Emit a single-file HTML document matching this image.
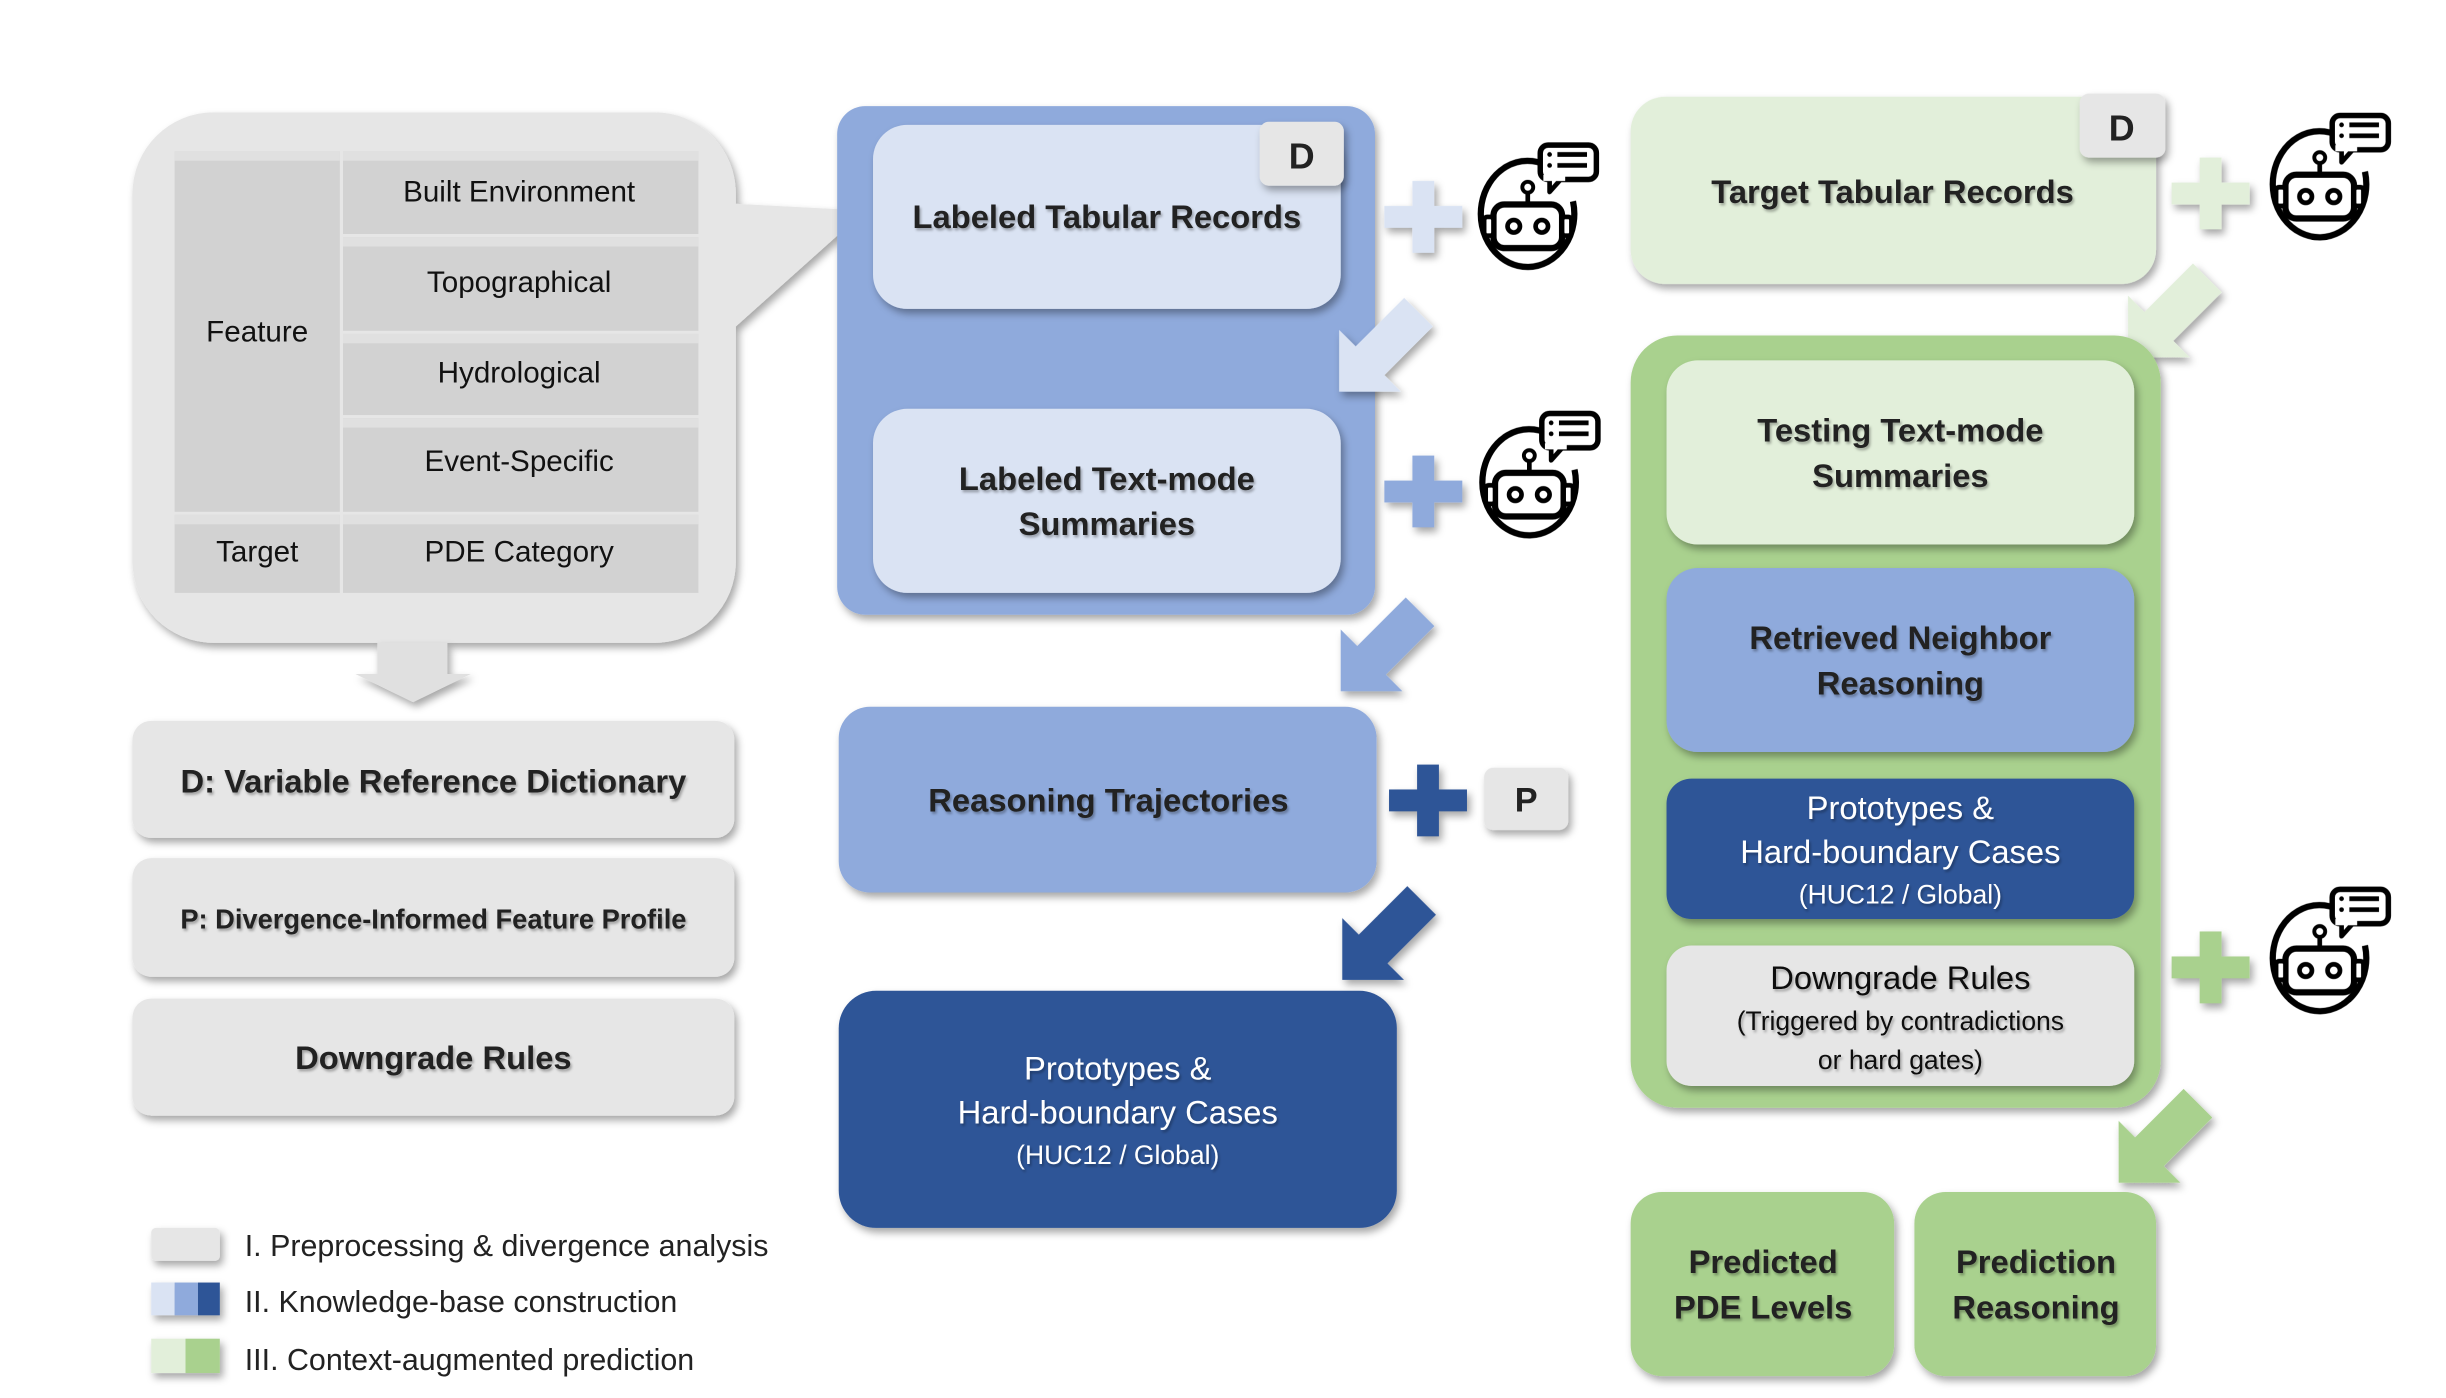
<!DOCTYPE html>
<html><head><meta charset="utf-8"><style>
html,body{margin:0;padding:0;background:#fff;}
svg{display:block;}
text{font-family:"Liberation Sans",sans-serif;}
</style></head><body>
<svg width="2446" height="1398" viewBox="0 0 1569 896" preserveAspectRatio="none" xmlns="http://www.w3.org/2000/svg">
<defs>
<filter id="sh" x="-10%" y="-10%" width="125%" height="130%"><feDropShadow dx="2" dy="3" stdDeviation="2.5" flood-color="#000" flood-opacity="0.35"/></filter>
<filter id="ts" x="-5%" y="-20%" width="110%" height="150%"><feDropShadow dx="1" dy="1.5" stdDeviation="0.8" flood-color="#000" flood-opacity="0.3"/></filter>
<g id="bot">
<path d="M 12,-31 A 30 34 0 1 0 29,-8" fill="none" stroke="#000" stroke-width="4"/>
<rect x="-22" y="-6" width="44" height="28" rx="7" fill="#fff" stroke="#000" stroke-width="4"/>
<rect x="-28" y="2" width="6" height="12" rx="2" fill="#fff" stroke="#000" stroke-width="3"/>
<rect x="22" y="2" width="6" height="12" rx="2" fill="#fff" stroke="#000" stroke-width="3"/>
<circle cx="-9" cy="8" r="4" fill="none" stroke="#000" stroke-width="3"/>
<circle cx="9" cy="8" r="4" fill="none" stroke="#000" stroke-width="3"/>
<line x1="0" y1="-6" x2="0" y2="-14" stroke="#000" stroke-width="3"/>
<circle cx="0" cy="-17" r="3.5" fill="#fff" stroke="#000" stroke-width="2.5"/>
<rect x="8" y="-44" width="36" height="22" rx="5" fill="#fff" stroke="#000" stroke-width="3.5"/>
<polygon points="14,-23 22,-23 14,-14" fill="#fff" stroke="#000" stroke-width="3" stroke-linejoin="round"/>
<rect x="10" y="-25" width="14" height="4" fill="#fff"/>
<line x1="19" y1="-38" x2="38" y2="-38" stroke="#000" stroke-width="3"/>
<line x1="19" y1="-31" x2="38" y2="-31" stroke="#000" stroke-width="3"/>
<circle cx="14" cy="-38" r="1.5"/><circle cx="14" cy="-31" r="1.5"/>
</g>
<g id="arr"><polygon points="0,-13 44,-13 44,-28 72,0 44,28 44,13 0,13"/></g>
</defs>

<g filter="url(#sh)">
<polygon points="460,130 555,135 460,220" fill="#e6e6e6"/>
<rect x="85" y="72" width="387" height="340" rx="52" fill="#e6e6e6"/>
</g>
<g>
<rect x="112" y="97" width="106" height="231" fill="#d2d2d2"/>
<rect x="112" y="330" width="106" height="50" fill="#d2d2d2"/>
<rect x="220" y="97" width="228" height="53" fill="#d2d2d2"/>
<rect x="220" y="152" width="228" height="60" fill="#d2d2d2"/>
<rect x="220" y="214" width="228" height="52" fill="#d2d2d2"/>
<rect x="220" y="268" width="228" height="60" fill="#d2d2d2"/>
<rect x="220" y="330" width="228" height="50" fill="#d2d2d2"/>
<g fill="#e0e0e0">
<rect x="112" y="97" width="106" height="6"/><rect x="112" y="330" width="106" height="6"/>
<rect x="220" y="97" width="228" height="6"/><rect x="220" y="152" width="228" height="6"/>
<rect x="220" y="214" width="228" height="6"/><rect x="220" y="268" width="228" height="6"/>
<rect x="220" y="330" width="228" height="6"/>
</g>
</g>
<g font-size="19" fill="#111" text-anchor="middle">
<text x="333" y="129">Built Environment</text>
<text x="333" y="187">Topographical</text>
<text x="333" y="245">Hydrological</text>
<text x="333" y="302">Event-Specific</text>
<text x="333" y="360">PDE Category</text>
<text x="165" y="219">Feature</text>
<text x="165" y="360">Target</text>
</g>
<polygon points="242,412 287,412 287,432 302,432 265,450 228,432 242,432" fill="#e0e0e0" filter="url(#sh)"/>

<g filter="url(#sh)" fill="#e6e6e6">
<rect x="85" y="462" width="386" height="75" rx="12"/>
<rect x="85" y="550" width="386" height="76" rx="12"/>
<rect x="85" y="640" width="386" height="75" rx="12"/>
</g>
<g text-anchor="middle" fill="#222" font-weight="bold" filter="url(#ts)">
<text x="278" y="508" font-size="21">D: Variable Reference Dictionary</text>
<text x="278" y="595" font-size="17.5">P: Divergence-Informed Feature Profile</text>
<text x="278" y="685" font-size="21">Downgrade Rules</text>
</g>

<g filter="url(#sh)">
<rect x="97" y="787" width="44" height="21" rx="3" fill="#e6e6e6"/>
<rect x="97" y="822" width="15" height="21" fill="#dae3f3"/>
<rect x="112" y="822" width="15" height="21" fill="#8faadc"/>
<rect x="127" y="822" width="14" height="21" fill="#2f5597"/>
<rect x="97" y="858" width="22" height="22" fill="#e2efda"/>
<rect x="119" y="858" width="22" height="22" fill="#a9d18e"/>
</g>
<g font-size="19.5" fill="#222">
<text x="157" y="805">I. Preprocessing &amp; divergence analysis</text>
<text x="157" y="841">II. Knowledge-base construction</text>
<text x="157" y="878">III. Context-augmented prediction</text>
</g>

<rect x="537" y="68" width="345" height="326" rx="18" fill="#8faadc" filter="url(#sh)"/>
<g filter="url(#sh)" fill="#dae3f3">
<rect x="560" y="80" width="300" height="118" rx="22"/>
<rect x="560" y="262" width="300" height="118" rx="22"/>
</g>
<rect x="808" y="78" width="54" height="41" rx="6" fill="#e6e6e6" filter="url(#sh)"/>
<text x="835" y="108" font-size="23" font-weight="bold" fill="#222" text-anchor="middle">D</text>
<g text-anchor="middle" fill="#222" font-weight="bold" font-size="21" filter="url(#ts)">
<text x="710" y="146">Labeled Tabular Records</text>
<text x="710" y="314">Labeled Text-mode</text>
<text x="710" y="343">Summaries</text>
</g>

<rect x="538" y="453" width="345" height="119" rx="20" fill="#8faadc" filter="url(#sh)"/>
<text x="711" y="520" font-size="21" font-weight="bold" fill="#222" text-anchor="middle" filter="url(#ts)">Reasoning Trajectories</text>

<rect x="538" y="635" width="358" height="152" rx="24" fill="#2f5597" filter="url(#sh)"/>
<g text-anchor="middle" fill="#fff" filter="url(#ts)">
<text x="717" y="692" font-size="21">Prototypes &amp;</text>
<text x="717" y="720" font-size="21">Hard-boundary Cases</text>
<text x="717" y="746" font-size="17">(HUC12 / Global)</text>
</g>

<g filter="url(#sh)">
<use href="#arr" transform="translate(859,251) rotate(135) translate(-72,0)" fill="#dae3f3"/>
<use href="#arr" transform="translate(860,443) rotate(135) translate(-72,0)" fill="#8faadc"/>
<use href="#arr" transform="translate(861,628) rotate(135) translate(-72,0)" fill="#2f5597"/>
<use href="#arr" transform="translate(1365,229) rotate(135) translate(-72,0)" fill="#e2efda"/>
<use href="#arr" transform="translate(1359,758) rotate(135) translate(-72,0)" fill="#a9d18e"/>
</g>

<g filter="url(#sh)">
<path d="M906,116h14v16h18v14h-18v16h-14v-16h-18v-14h18z" fill="#dae3f3"/>
<path d="M906,292h14v16h18v14h-18v16h-14v-16h-18v-14h18z" fill="#8faadc"/>
<path d="M909,490h14v16h18v14h-18v16h-14v-16h-18v-14h18z" fill="#2f5597"/>
<path d="M1411,101h14v16h18v14h-18v16h-14v-16h-18v-14h18z" fill="#e2efda"/>
<path d="M1411,597h14v16h18v14h-18v16h-14v-16h-18v-14h18z" fill="#a9d18e"/>
</g>

<use href="#bot" transform="translate(980,137)"/>
<use href="#bot" transform="translate(981,309)"/>
<use href="#bot" transform="translate(1488,118)"/>
<use href="#bot" transform="translate(1488,614)"/>

<rect x="952" y="492" width="54" height="40" rx="6" fill="#e6e6e6" filter="url(#sh)"/>
<text x="979" y="520" font-size="22" font-weight="bold" fill="#222" text-anchor="middle">P</text>

<rect x="1046" y="62" width="337" height="120" rx="22" fill="#e2efda" filter="url(#sh)"/>
<rect x="1334" y="60" width="55" height="41" rx="6" fill="#e6e6e6" filter="url(#sh)"/>
<text x="1361" y="90" font-size="23" font-weight="bold" fill="#222" text-anchor="middle">D</text>
<text x="1214" y="130" font-size="21" font-weight="bold" fill="#222" text-anchor="middle" filter="url(#ts)">Target Tabular Records</text>

<rect x="1046" y="215" width="340" height="495" rx="30" fill="#a9d18e" filter="url(#sh)"/>
<g filter="url(#sh)">
<rect x="1069" y="231" width="300" height="118" rx="20" fill="#e2efda"/>
<rect x="1069" y="364" width="300" height="118" rx="20" fill="#8faadc"/>
<rect x="1069" y="499" width="300" height="90" rx="16" fill="#2f5597"/>
<rect x="1069" y="606" width="300" height="90" rx="16" fill="#e6e6e6"/>
</g>
<g text-anchor="middle" fill="#222" font-weight="bold" font-size="21" filter="url(#ts)">
<text x="1219" y="283">Testing Text-mode</text>
<text x="1219" y="312">Summaries</text>
<text x="1219" y="416">Retrieved Neighbor</text>
<text x="1219" y="445">Reasoning</text>
</g>
<g text-anchor="middle" fill="#fff" filter="url(#ts)">
<text x="1219" y="525" font-size="21">Prototypes &amp;</text>
<text x="1219" y="553" font-size="21">Hard-boundary Cases</text>
<text x="1219" y="579" font-size="17">(HUC12 / Global)</text>
</g>
<g text-anchor="middle" fill="#111" filter="url(#ts)">
<text x="1219" y="634" font-size="21">Downgrade Rules</text>
<text x="1219" y="660" font-size="17">(Triggered by contradictions</text>
<text x="1219" y="685" font-size="17">or hard gates)</text>
</g>

<g filter="url(#sh)" fill="#a9d18e">
<rect x="1046" y="764" width="169" height="118" rx="20"/>
<rect x="1228" y="764" width="155" height="118" rx="20"/>
</g>
<g text-anchor="middle" fill="#222" font-weight="bold" font-size="21" filter="url(#ts)">
<text x="1131" y="816">Predicted</text>
<text x="1131" y="845">PDE Levels</text>
<text x="1306" y="816">Prediction</text>
<text x="1306" y="845">Reasoning</text>
</g>
</svg>
</body></html>
